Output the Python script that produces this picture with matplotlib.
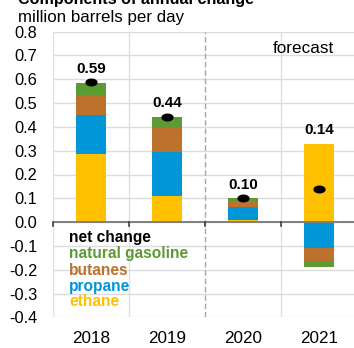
import matplotlib
matplotlib.use("Agg")
import matplotlib.pyplot as plt
import numpy as np
from matplotlib.path import Path
from matplotlib.markers import MarkerStyle

plt.rcParams['font.family'] = ['Liberation Sans', 'DejaVu Sans']

years = ["2018", "2019", "2020", "2021"]
ethane = [0.285, 0.110, 0.007, 0.330]
propane = [0.165, 0.185, 0.058, -0.110]
butanes = [0.085, 0.100, 0.023, -0.052]
natural_gasoline = [0.050, 0.047, 0.012, -0.025]
net_change = [0.59, 0.44, 0.10, 0.14]
net_labels = ["0.59", "0.44", "0.10", "0.14"]
yticks = [0.8, 0.7, 0.6, 0.5, 0.4, 0.3, 0.2, 0.1, 0.0, -0.1, -0.2, -0.3, -0.4]

colors = {"ethane": "#FFC000", "propane": "#0096D7", "butanes": "#BC722C",
          "natural gasoline": "#5C9A33"}

W, H = 354, 348
fig = plt.figure(figsize=(W / 100, H / 100), dpi=100)
ax = fig.add_axes([53 / W, (H - 317.4) / H, 304 / W, 285.8 / H])

x = np.arange(len(years))
series = [("ethane", ethane), ("propane", propane), ("butanes", butanes),
          ("natural gasoline", natural_gasoline)]
pos_base = np.zeros(len(years))
neg_base = np.zeros(len(years))
for name, vals in series:
    vals = np.array(vals)
    bottoms = np.where(vals >= 0, pos_base, neg_base)
    ax.bar(x, vals, 0.4, bottom=bottoms, color=colors[name], zorder=3, linewidth=0)
    pos_base = pos_base + np.where(vals >= 0, vals, 0)
    neg_base = neg_base + np.where(vals < 0, vals, 0)

# net change marker (pill shape)
t = np.linspace(0, 2 * np.pi, 60)
ell = Path(np.column_stack([1.65 * np.cos(t), np.sin(t)]))
ax.plot(x, net_change, linestyle='none', marker=MarkerStyle(ell), markersize=7.8,
        color='black', zorder=5)

for xi, top, lab in zip(x, pos_base, net_labels):
    ax.text(xi, top + 0.058, lab, ha='center', va='center', fontsize=11,
            fontweight='bold', color='black', zorder=6)

ax.set_xlim(-0.5, 3.5)
ax.set_ylim(-0.4, 0.8)
ax.set_yticks(yticks)
ax.set_yticklabels([f"{v:.1f}" for v in yticks])
ax.set_xticks(x)
ax.set_xticklabels(years)
ax.tick_params(axis='y', length=0, pad=11.3, labelsize=11.8, colors='black')
ax.tick_params(axis='x', length=0, pad=9.5, labelsize=12.3, colors='black')
for s in ax.spines.values():
    s.set_visible(False)

ax.yaxis.grid(True, color='#dcdcdc', linewidth=1, zorder=0)
ax.set_axisbelow(True)
for b in [-0.5, 0.5, 2.5]:
    ax.axvline(b, color='#e0e0e0', linewidth=1, zorder=1)
ax.axvline(1.5, color='#a6a6a6', linewidth=1, linestyle=(0, (4, 2)), zorder=1)

ax.axhline(0, color='#7f7f7f', linewidth=1.4, zorder=4)
for b in [-0.5, 0.5, 1.5, 2.5]:
    ax.plot([b, b], [0, -0.017], color='#404040', linewidth=1.2, zorder=4,
            clip_on=False)

ax.text(0.723, 0.9415, "forecast", transform=ax.transAxes, fontsize=12.3,
        va='center', ha='left', color='black')

leg = [("net change", "black"), ("natural gasoline", colors["natural gasoline"]),
       ("butanes", colors["butanes"]), ("propane", colors["propane"]),
       ("ethane", colors["ethane"])]
ys = [0.281, 0.223, 0.165, 0.109, 0.055]
for (lab, c), yy in zip(leg, ys):
    ax.text(0.053, yy, lab, transform=ax.transAxes, fontsize=11.2, fontweight='bold',
            color=c, va='center', ha='left', zorder=6)

fig.text(18 / W, (H - 4) / H, "Components of annual change", fontsize=11.6,
         fontweight='bold', va='baseline', ha='left')
fig.text(18 / W, (H - 21.7) / H, "million barrels per day", fontsize=12.2,
         va='baseline', ha='left')

fig.savefig("out.png", dpi=100)
